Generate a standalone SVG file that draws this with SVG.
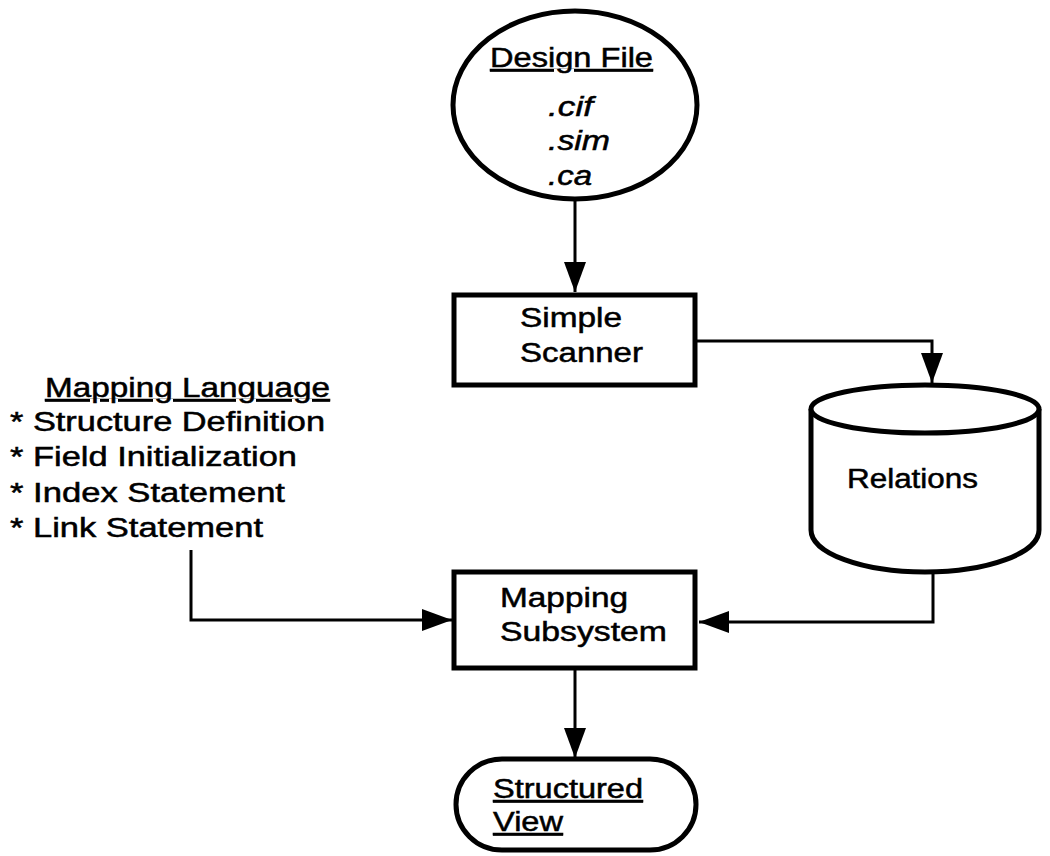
<svg xmlns="http://www.w3.org/2000/svg" width="1050" height="856" viewBox="0 0 1050 856">
  <style>
    .shape { fill: #fff; stroke: #000; stroke-width: 5; }
    .wire { fill: none; stroke: #000; stroke-width: 3; }
    .lbl { font-family: "Liberation Sans", Arial, Helvetica, sans-serif; font-size: 27px; fill: #000; stroke: #000; stroke-width: 0.5; }
    .it { font-style: italic; }
    .ul { text-decoration: underline; }
  </style>
  <defs>
    <marker id="arrow" viewBox="0 0 30 22" markerWidth="30" markerHeight="22" refX="30" refY="11" orient="auto" markerUnits="userSpaceOnUse">
      <path d="M0,0 L30,11 L0,22 Z" fill="#000"/>
    </marker>
  </defs>
  <rect width="1050" height="856" fill="#fff"/>

  <g id="connectors">
    <line class="wire" x1="575" y1="199" x2="575" y2="292" marker-end="url(#arrow)"/>
    <polyline class="wire" points="697,341 932,341 932,383" marker-end="url(#arrow)"/>
    <polyline class="wire" points="933,572 933,622 699,622" marker-end="url(#arrow)"/>
    <polyline class="wire" points="191,550 191,620 452,620" marker-end="url(#arrow)"/>
    <line class="wire" x1="575" y1="670" x2="575" y2="758" marker-end="url(#arrow)"/>
  </g>

  <g id="design-file">
    <ellipse class="shape" cx="575" cy="105" rx="122" ry="94"/>
    <text class="lbl ul" x="490" y="67" textLength="163" lengthAdjust="spacingAndGlyphs">Design File</text>
    <text class="lbl it" x="548" y="116" textLength="45" lengthAdjust="spacingAndGlyphs">.cif</text>
    <text class="lbl it" x="548" y="150" textLength="62" lengthAdjust="spacingAndGlyphs">.sim</text>
    <text class="lbl it" x="548" y="185" textLength="44" lengthAdjust="spacingAndGlyphs">.ca</text>
  </g>

  <g id="simple-scanner">
    <rect class="shape" x="454" y="295" width="241" height="90"/>
    <text class="lbl" x="520" y="327" textLength="102" lengthAdjust="spacingAndGlyphs">Simple</text>
    <text class="lbl" x="520" y="362" textLength="123" lengthAdjust="spacingAndGlyphs">Scanner</text>
  </g>

  <g id="relations">
    <path class="shape" d="M811,409 L811,530 A114,42 0 0 0 1039,530 L1039,409 A114,24 0 0 0 811,409 Z"/>
    <path class="shape" fill="none" d="M811,409 A114,24 0 0 0 1039,409"/>
    <text class="lbl" x="847" y="488" textLength="131" lengthAdjust="spacingAndGlyphs">Relations</text>
  </g>

  <g id="mapping-language">
    <text class="lbl ul" x="45" y="397" textLength="285" lengthAdjust="spacingAndGlyphs">Mapping Language</text>
    <text class="lbl" x="10" y="431" textLength="315" lengthAdjust="spacingAndGlyphs">* Structure Definition</text>
    <text class="lbl" x="10" y="466" textLength="287" lengthAdjust="spacingAndGlyphs">* Field Initialization</text>
    <text class="lbl" x="10" y="502" textLength="275" lengthAdjust="spacingAndGlyphs">* Index Statement</text>
    <text class="lbl" x="10" y="537" textLength="253" lengthAdjust="spacingAndGlyphs">* Link Statement</text>
  </g>

  <g id="mapping-subsystem">
    <rect class="shape" x="454" y="572" width="241" height="96"/>
    <text class="lbl" x="500" y="607" textLength="128" lengthAdjust="spacingAndGlyphs">Mapping</text>
    <text class="lbl" x="500" y="641" textLength="167" lengthAdjust="spacingAndGlyphs">Subsystem</text>
  </g>

  <g id="structured-view">
    <rect class="shape" x="456" y="759" width="240" height="91" rx="46" ry="46"/>
    <text class="lbl ul" x="493" y="798" textLength="150" lengthAdjust="spacingAndGlyphs">Structured</text>
    <text class="lbl ul" x="493" y="831" textLength="70" lengthAdjust="spacingAndGlyphs">View</text>
  </g>
</svg>
